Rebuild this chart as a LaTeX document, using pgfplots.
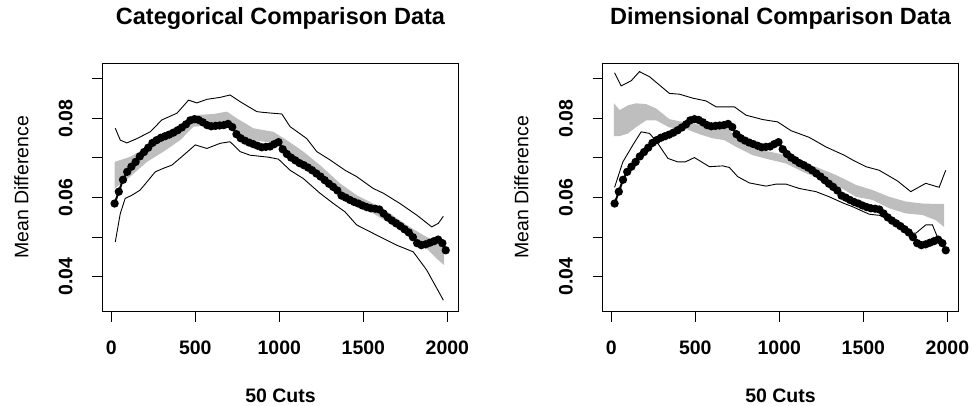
\documentclass[border=0pt]{standalone}
\usepackage{fontspec}
\setmainfont{Liberation Sans}
\usepackage{pgfplots}
\usepackage{pgfplotstable}
\pgfplotsset{compat=1.18}
\definecolor{band}{RGB}{190,190,190}

\pgfplotstableread{
x y
20 0.0585
45 0.0615
70 0.0645
95 0.0665
120 0.0678
145 0.0690
170 0.0704
195 0.0715
220 0.0726
245 0.0738
270 0.0745
295 0.0751
320 0.0755
345 0.0759
370 0.0764
395 0.0770
420 0.0777
445 0.0785
470 0.0795
495 0.0798
520 0.0796
545 0.0790
570 0.0783
595 0.0780
620 0.0781
645 0.0782
670 0.0783
695 0.0786
720 0.0778
745 0.0760
770 0.0750
795 0.0744
820 0.0739
845 0.0735
870 0.0731
895 0.0727
920 0.0728
945 0.0729
970 0.0735
995 0.0740
1020 0.0722
1045 0.0710
1070 0.0701
1095 0.0694
1120 0.0687
1145 0.0682
1170 0.0676
1195 0.0669
1220 0.0661
1245 0.0653
1270 0.0644
1295 0.0635
1320 0.0627
1345 0.0618
1370 0.0605
1395 0.0600
1420 0.0594
1445 0.0589
1470 0.0585
1495 0.0580
1520 0.0576
1545 0.0573
1570 0.0572
1595 0.0570
1620 0.0560
1645 0.0550
1670 0.0542
1695 0.0535
1720 0.0528
1745 0.0520
1770 0.0512
1795 0.0500
1820 0.0485
1845 0.0480
1870 0.0482
1895 0.0486
1920 0.0490
1945 0.0494
1970 0.0485
1990 0.0467
}\maincurve

\pgfplotsset{rstyle/.style={
  width=356pt, height=248.4pt, scale only axis,
  xmin=-52, xmax=2066, ymin=0.0312, ymax=0.0939,
  scaled y ticks=false, scaled x ticks=false,
  xtick={0,500,1000,1500,2000}, xticklabels={0,500,1000,1500,2000},
  ytick={0.04,0.05,0.06,0.07,0.08,0.09}, yticklabels={0.04,,0.06,,0.08,},
  tick align=outside, xtick pos=left, ytick pos=left,
  major tick length=10pt,
  tick style={black, line width=1pt},
  axis line style={black, line width=1.1pt},
  ticklabel style={font=\fontsize{19.5}{20}\selectfont\bfseries},
  xticklabel style={anchor=base, yshift=-33pt},
  yticklabel style={xshift=-20pt, rotate=90, anchor=base},
  title style={at={(0.5,1.134)}, anchor=base, font=\fontsize{23.5}{25}\selectfont\bfseries},
  xlabel style={at={(0.5,-0.3636)}, anchor=base, font=\fontsize{19.5}{20}\selectfont\bfseries},
  ylabel style={at={(-0.228,0.5)}, anchor=center, rotate=0, font=\fontsize{19.5}{20}\selectfont},
  xlabel={50 Cuts}, ylabel={Mean Difference},
  mainline/.style={black, line width=2pt, mark=*, mark size=3.1pt},
  thin/.style={black, line width=0.9pt},
}}

\begin{document}
\begin{tikzpicture}
\useasboundingbox (0,0) rectangle (974pt,406pt);
\begin{axis}[rstyle, at={(102.5pt,94.3pt)}, anchor=south west,
  title={Categorical Comparison Data}]
\addplot[fill=band, draw=none] coordinates {
(20,0.0690) (113,0.0703) (212,0.0727) (311,0.0752) (410,0.0775) (489,0.0808)
(608,0.0811) (688,0.0817) (747,0.0800) (846,0.0775) (965,0.0766) (1044,0.0745)
(1143,0.0716) (1242,0.0682) (1361,0.0636) (1460,0.0606) (1559,0.0585) (1658,0.0560)
(1757,0.0531) (1857,0.0505) (1936,0.0488) (1980,0.0480)
(1980,0.0430) (1936,0.0446) (1857,0.0480) (1757,0.0505) (1658,0.0535) (1559,0.0560)
(1460,0.0577) (1361,0.0612) (1242,0.0657) (1143,0.0690) (1044,0.0716) (965,0.0738)
(846,0.0745) (747,0.0766) (688,0.0787) (608,0.0783) (489,0.0779) (410,0.0745)
(311,0.0716) (212,0.0690) (113,0.0653) (20,0.0623)
} --cycle;
\addplot[thin] coordinates {
(24,0.0775) (54,0.0745) (93,0.0738) (153,0.0749) (232,0.0766) (301,0.0796)
(391,0.0813) (460,0.0846) (509,0.0839) (569,0.0848) (648,0.0853) (707,0.0859)
(767,0.0842) (866,0.0817) (906,0.0815) (1015,0.0811) (1064,0.0779) (1163,0.0749)
(1223,0.0716) (1302,0.0695) (1391,0.0669) (1460,0.0653) (1559,0.0623) (1619,0.0611)
(1718,0.0585) (1817,0.0556) (1907,0.0526) (1946,0.0535) (1976,0.0553)
};
\addplot[thin] coordinates {
(24,0.0488) (54,0.0560) (83,0.0598) (123,0.0606) (172,0.0619) (262,0.0665)
(311,0.0674) (361,0.0682) (430,0.0707) (500,0.0733) (569,0.0724) (648,0.0737)
(707,0.0741) (767,0.0716) (826,0.0707) (935,0.0702) (995,0.0697) (1064,0.0669)
(1143,0.0648) (1242,0.0611) (1322,0.0585) (1391,0.0564) (1460,0.0531) (1599,0.0501)
(1698,0.0480) (1797,0.0463) (1877,0.0417) (1976,0.0341)
};
\addplot[mainline] table[x=x, y=y] {\maincurve};
\end{axis}

\begin{axis}[rstyle, at={(602.5pt,94.3pt)}, anchor=south west,
  title={Dimensional Comparison Data}]
\addplot[fill=band, draw=none] coordinates {
(16,0.0838) (50,0.0821) (100,0.0833) (148,0.0838) (208,0.0836) (267,0.0825)
(346,0.0798) (446,0.0789) (525,0.0784) (600,0.0784) (673,0.0787) (743,0.0750)
(842,0.0724) (941,0.0716) (1040,0.0707) (1139,0.0690) (1238,0.0674) (1337,0.0657)
(1456,0.0632) (1555,0.0619) (1654,0.0602) (1753,0.0590) (1852,0.0585) (1931,0.0584)
(1980,0.0584)
(1980,0.0526) (1931,0.0543) (1852,0.0556) (1753,0.0560) (1654,0.0573) (1555,0.0594)
(1456,0.0602) (1337,0.0632) (1238,0.0648) (1139,0.0665) (1040,0.0686) (941,0.0696)
(842,0.0707) (743,0.0728) (673,0.0745) (600,0.0750) (525,0.0760) (446,0.0773)
(346,0.0777) (267,0.0795) (208,0.0795) (148,0.0778) (100,0.0762) (50,0.0755)
(16,0.0755)
} --cycle;
\addplot[thin] coordinates {
(20,0.0915) (59,0.0882) (119,0.0895) (168,0.0918) (228,0.0905) (346,0.0863)
(406,0.0861) (485,0.0851) (564,0.0844) (624,0.0829) (733,0.0829) (802,0.0808)
(901,0.0797) (990,0.0791) (1069,0.0769) (1178,0.0752) (1277,0.0728) (1386,0.0707)
(1436,0.0695) (1515,0.0678) (1594,0.0669) (1703,0.0642) (1782,0.0615) (1871,0.0636)
(1951,0.0626) (1990,0.0669)
};
\addplot[thin] coordinates {
(20,0.0626) (69,0.0690) (129,0.0733) (178,0.0766) (228,0.0762) (277,0.0737)
(337,0.0699) (396,0.0690) (440,0.0690) (495,0.0701) (584,0.0678) (663,0.0680)
(703,0.0676) (752,0.0653) (822,0.0637) (921,0.0629) (980,0.0634) (1040,0.0634)
(1119,0.0623) (1218,0.0615) (1297,0.0602) (1386,0.0585) (1436,0.0577) (1535,0.0558)
(1600,0.0555) (1650,0.0545) (1700,0.0530) (1753,0.0512) (1812,0.0510) (1871,0.0531)
(1911,0.0531) (1940,0.0501) (1975,0.0476)
};
\addplot[mainline] table[x=x, y=y] {\maincurve};
\end{axis}
\end{tikzpicture}
\end{document}
